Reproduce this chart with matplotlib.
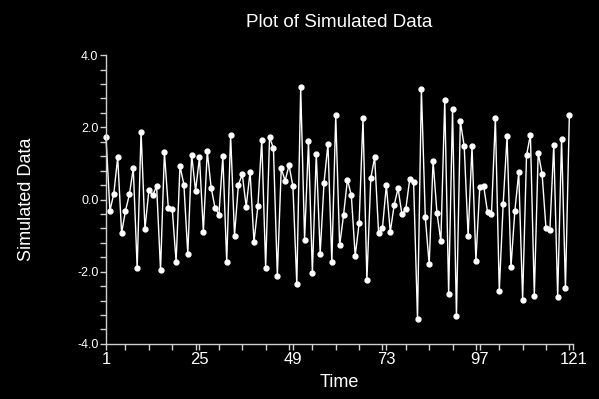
import matplotlib
matplotlib.use("Agg")
import matplotlib.pyplot as plt
from matplotlib.ticker import MultipleLocator, FixedLocator

plt.rcParams['font.family'] = ['Liberation Sans', 'DejaVu Sans']

values = [
    1.72, -0.31, 0.16, 1.17, -0.93, -0.31, 0.14, 0.86, -1.90, 1.88,
    -0.82, 0.25, 0.12, 0.37, -1.96, 1.31, -0.24, -0.25, -1.72, 0.93,
    0.41, -1.51, 1.24, 0.24, 1.17, -0.89, 1.33, 0.33, -0.23, -0.42,
    1.20, -1.73, 1.79, -1.00, 0.41, 0.70, -0.20, 0.77, -1.18, -0.19,
    1.66, -1.89, 1.72, 1.42, -2.11, 0.86, 0.52, 0.95, 0.37, -2.35,
    3.11, -1.11, 1.61, -2.04, 1.27, -1.50, 0.47, 1.54, -1.74, 2.33,
    -1.27, -0.44, 0.55, 0.12, -1.56, -0.66, 2.25, -2.23, 0.59, 1.17,
    -0.92, -0.79, 0.40, -0.90, -0.16, 0.31, -0.41, -0.26, 0.56, 0.48,
    -3.31, 3.05, -0.49, -1.80, 1.07, -0.37, -1.16, 2.75, -2.61, 2.50,
    -3.24, 2.17, 1.47, -1.02, 1.47, -1.69, 0.35, 0.37, -0.36, -0.41,
    2.26, -2.53, -0.13, 1.76, -1.88, -0.32, 0.75, -2.77, 1.22, 1.79,
    -2.66, 1.30, 0.71, -0.80, -0.85, 1.52, -2.70, 1.68, -2.46, 2.33,
]
time = list(range(1, len(values) + 1))
x_ticks = [1, 25, 49, 73, 97, 121]
y_ticks = [-4.0, -2.0, 0.0, 2.0, 4.0]
y_tick_labels = ["-4.0", "-2.0", "0.0", "2.0", "4.0"]

fig = plt.figure(figsize=(5.99, 3.99), dpi=100, facecolor='black')
ax = fig.add_axes([0.177, 0.138, 0.957 - 0.177, 0.862 - 0.138])
ax.set_facecolor('black')

ax.plot(time, values, color='white', lw=1.0, marker='o', markersize=3.5,
        markerfacecolor='white', markeredgecolor='white', clip_on=False)

ax.set_xlim(1, 121)
ax.set_ylim(-4, 4)
ax.xaxis.set_major_locator(FixedLocator(x_ticks))
ax.xaxis.set_minor_locator(MultipleLocator(6))
ax.set_yticks(y_ticks)
ax.set_yticklabels(y_tick_labels)
ax.yaxis.set_minor_locator(MultipleLocator(0.4))

for side in ['top', 'right']:
    ax.spines[side].set_visible(False)
for side in ['left', 'bottom']:
    ax.spines[side].set_color('#d0d0d0')
    ax.spines[side].set_linewidth(1.0)

ax.tick_params(axis='both', which='both', direction='out', length=4.5,
               width=1.0, color='#d0d0d0')
ax.tick_params(axis='x', labelsize=12, labelcolor='white', pad=1)
ax.tick_params(axis='y', labelsize=9, labelcolor='white', pad=1)

ax.set_title("Plot of Simulated Data", color='white', fontsize=13.5, pad=20)
ax.set_xlabel("Time", color='white', fontsize=13, labelpad=5)
ax.set_ylabel("Simulated Data", color='white', fontsize=13, labelpad=30)

fig.savefig("out.png", dpi=100, facecolor='black')
